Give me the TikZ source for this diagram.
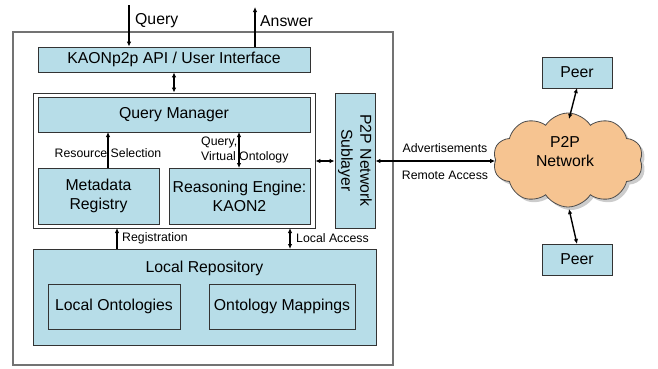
\documentclass[tikz,border=0pt]{standalone}
\usepackage{fontspec}
\setmainfont{Liberation Sans}
\usetikzlibrary{shapes.symbols,shadows,arrows.meta}
\definecolor{boxblue}{RGB}{183,221,232}
\definecolor{cloudfill}{RGB}{246,196,145}
\tikzset{
  bluebox/.style={draw=black!80, fill=boxblue, line width=0.8pt, inner sep=0pt, font=\fontsize{15.8}{19}\selectfont, align=center},
  frame/.style={draw=black!80, line width=0.8pt},
  conn/.style={line width=1.4pt, -{Latex[length=5pt,width=4.5pt]}},
  dconn/.style={line width=1.4pt, {Latex[length=5pt,width=4.5pt]}-{Latex[length=5pt,width=4.5pt]}},
  small/.style={font=\fontsize{12.3}{15}\selectfont, inner sep=1pt},
  big/.style={font=\fontsize{15.8}{19}\selectfont, inner sep=1pt},
}
\begin{document}
\begin{tikzpicture}[x=1pt,y=-1pt]
\useasboundingbox (0,0) rectangle (658,368);
% outer frame
\draw[draw=black!55, line width=1.2pt] (13,32) rectangle (393,365);
% inner white box
\node[frame, fill=white, minimum width=282, minimum height=135, inner sep=0pt] (inner) at (174,160.5) {};
% API
\node[bluebox, minimum width=272, minimum height=25] (api) at (174,59.5) {KAONp2p API / User Interface};
% Query manager
\node[bluebox, minimum width=272, minimum height=35] (qm) at (174,114.5) {Query Manager};
\node[bluebox, minimum width=121, minimum height=56] (mr) at (98.5,196) {Metadata\\Registry};
\node[bluebox, minimum width=141, minimum height=56] (re) at (239.5,196) {Reasoning Engine:\\KAON2};
% sublayer
\node[bluebox, minimum width=40, minimum height=135] (sub) at (355,160.5) {};
\node[big, rotate=-90, align=center] (subt) at (sub.center) {P2P Network\\Sublayer};
% local repository
\node[bluebox, minimum width=343, minimum height=96] (lr) at (204.5,297) {};
\node[big] (lrt) at (204.5,268) {Local Repository};
\node[bluebox, minimum width=132, minimum height=45] (lo) at (114,306.5) {Local Ontologies};
\node[bluebox, minimum width=146, minimum height=45] (om) at (282,306.5) {Ontology Mappings};
% cloud
\node[cloud, cloud puffs=10, cloud puff arc=115, aspect=1.6, draw=black!70, fill=cloudfill, line width=0.8pt,
  minimum width=150, minimum height=94, inner sep=0pt,
  drop shadow={shadow xshift=3pt, shadow yshift=-3pt, fill=black!40}] (cloud) at (568,160) {};
\node[big, align=center] (cloudt) at (565,152) {P2P\\Network};
% peers
\node[bluebox, minimum width=70, minimum height=31] (p1) at (577,72.5) {Peer};
\node[bluebox, minimum width=70, minimum height=31] (p2) at (577,259.5) {Peer};
% coordinates
\coordinate (qin) at (129,5);
\coordinate (aout) at (255,7);
% connectors
\draw[conn] (qin) -- (qin |- api.north);
\node[big, anchor=west] (ql) at (134,21) {Query};
\draw[conn] (aout |- api.north) -- (aout);
\node[big, anchor=west] (al) at (259,21) {Answer};
\draw[dconn] (api.south) -- (api.south |- inner.north);
\draw[conn] (108,168) -- (108,132);
\node[small] (rsl) at (108,153) {Resource Selection};
\draw[dconn] (239,132) -- (239,168);
\node[small, anchor=north west, align=left] (qvl) at (200,136) {Query,\\Virtual Ontology};
\draw[dconn] (inner.east |- 0,161) -- (sub.west |- 0,161);
\draw[dconn] (sub.east |- 0,161) -- (cloud.west |- 0,161);
\node[small] (adl) at (445,148) {Advertisements};
\node[small] (ral) at (445,175) {Remote Access};
\draw[conn] (117,249) -- (117,228);
\node[small, anchor=west] (regl) at (121,238) {Registration};
\draw[dconn] (290,228) -- (290,249);
\node[small, anchor=west] (lal) at (295,238) {Local Access};
\draw[dconn] (577,88) -- (569,119);
\draw[dconn] (569,209) -- (577,244);
\end{tikzpicture}
\end{document}
